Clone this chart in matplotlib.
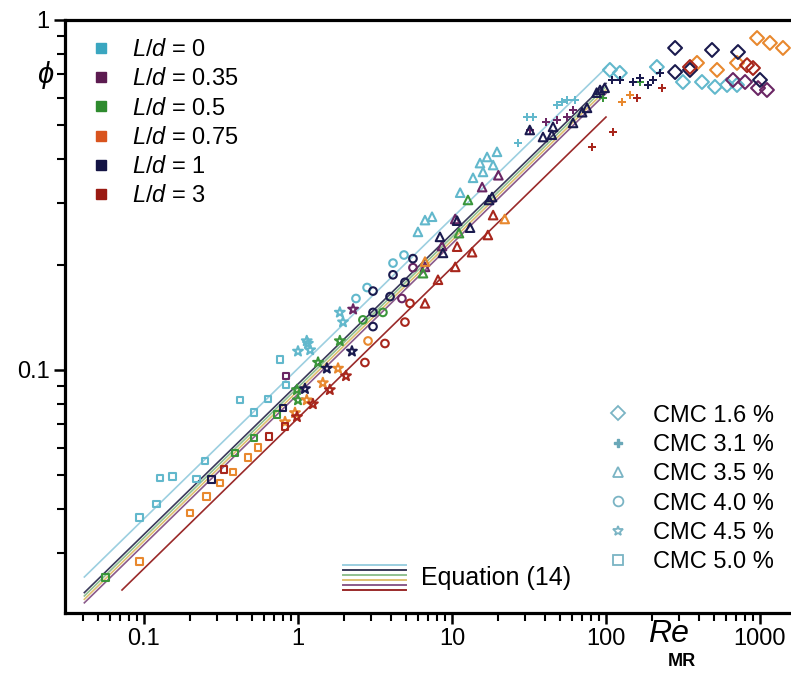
import matplotlib
matplotlib.use('Agg')
import matplotlib.pyplot as plt
from matplotlib import ticker
from matplotlib.lines import Line2D
from matplotlib.legend_handler import HandlerBase

plt.rcParams['font.family'] = ['Liberation Sans', 'DejaVu Sans']
plt.rcParams['mathtext.fontset'] = 'custom'
plt.rcParams['mathtext.it'] = 'Liberation Sans:italic'
plt.rcParams['mathtext.rm'] = 'Liberation Sans'

# --- data ---
ld_labels = ['0', '0.35', '0.5', '0.75', '1', '3']
cmc_labels = ['1.6', '3.1', '3.5', '4.0', '4.5', '5.0']

re_ld0 = [0.094, 0.121, 0.127, 0.154, 0.218, 0.249, 0.42, 0.518, 0.638, 0.764, 0.836,
          1.0, 1.14, 1.16, 1.2, 1.87, 1.96, 2.38, 2.81, 4.14, 4.88, 6.01, 6.68, 7.42,
          11.3, 13.7, 15.2, 15.9, 16.9, 18.5, 19.6, 26.8, 30.7, 33.6, 48, 51.8, 56, 62.9,
          106, 123, 214, 316, 420, 510, 611, 709]
phi_ld0 = [0.0378, 0.0414, 0.0491, 0.0495, 0.0488, 0.0549, 0.082, 0.0754, 0.0826, 0.107, 0.0906,
           0.113, 0.121, 0.119, 0.114, 0.146, 0.137, 0.160, 0.172, 0.202, 0.213, 0.248, 0.268, 0.274,
           0.321, 0.354, 0.390, 0.368, 0.406, 0.385, 0.420, 0.445, 0.528, 0.528, 0.57, 0.583, 0.59, 0.591,
           0.72, 0.706, 0.734, 0.665, 0.665, 0.644, 0.652, 0.652]
cmc_ld0 = ['5.0'] * 11 + ['4.5'] * 6 + ['4.0'] * 4 + ['3.5'] * 10 + ['3.1'] * 7 + ['1.6'] * 8

re_ld035 = [0.836, 2.28, 4.73, 5.58, 6.68, 8.61, 10.5, 15.7, 20, 32, 41, 48.1, 55.8, 61.1,
            668, 800, 971, 1110]
phi_ld035 = [0.0961, 0.149, 0.160, 0.196, 0.197, 0.226, 0.27, 0.333, 0.36, 0.485, 0.51, 0.518, 0.528, 0.553,
             0.674, 0.665, 0.639, 0.631]
cmc_ld035 = ['5.0'] + ['4.5'] + ['4.0'] * 2 + ['3.5'] * 5 + ['3.1'] * 5 + ['1.6'] * 4

re_ld05 = [0.056, 0.39, 0.518, 0.731, 0.985, 1.0, 1.35, 1.87, 2.64, 3.56, 6.48, 11.1, 12.7, 95, 166]
phi_ld05 = [0.0255, 0.0579, 0.0639, 0.0744, 0.0877, 0.082, 0.105, 0.121, 0.139, 0.146, 0.189, 0.246,
            0.306, 0.60, 0.665]
cmc_ld05 = ['5.0'] * 4 + ['4.5'] * 4 + ['4.0'] * 2 + ['3.5'] * 3 + ['3.1'] * 2

re_ld075 = [0.094, 0.199, 0.256, 0.312, 0.378, 0.474, 0.55, 0.824, 0.956, 1.14, 1.45, 1.82, 2.85,
            6.68, 22, 127, 143, 390, 526, 709, 957, 1160, 1410]
phi_ld075 = [0.0283, 0.039, 0.0434, 0.0475, 0.0511, 0.0561, 0.0599, 0.071, 0.0754, 0.082, 0.0918, 0.101,
             0.121, 0.204, 0.27, 0.583, 0.611, 0.754, 0.72, 0.754, 0.888, 0.86, 0.832]
cmc_ld075 = ['5.0'] * 7 + ['4.5'] * 5 + ['4.0'] + ['3.5'] * 2 + ['3.1'] * 2 + ['1.6'] * 6

re_ld1 = [0.276, 0.80, 1.11, 1.54, 2.24, 3.07, 3.07, 3.07, 3.96, 4.14, 4.95, 5.58, 8.36, 8.74, 10.8,
          13.1, 17.4, 18.2, 32, 39, 44.5, 45.3, 61.1, 70, 75.3, 87, 91.5, 98, 109, 123, 150, 166,
          187, 202, 224, 281, 281, 351, 488, 720, 1000]
phi_ld1 = [0.0485, 0.0778, 0.0883, 0.101, 0.113, 0.133, 0.146, 0.168, 0.162, 0.187, 0.178, 0.208, 0.240,
           0.216, 0.267, 0.255, 0.306, 0.312, 0.485, 0.463, 0.47, 0.495, 0.508, 0.545, 0.561, 0.62,
           0.631, 0.64, 0.674, 0.674, 0.665, 0.683, 0.652, 0.674, 0.706, 0.832, 0.71, 0.72, 0.821,
           0.81, 0.674]
cmc_ld1 = ['5.0'] * 2 + ['4.5'] * 3 + ['4.0'] * 7 + ['3.5'] * 16 + ['3.1'] * 7 + ['1.6'] * 6

re_ld3 = [0.331, 0.648, 0.824, 0.985, 1.25, 1.61, 2.05, 2.72, 3.67, 4.95, 5.34, 6.68, 8.11, 10.5,
          10.8, 13.5, 17.1, 18.5, 81.2, 111, 159, 231, 351, 824, 901]
phi_ld3 = [0.0518, 0.0644, 0.0688, 0.0734, 0.0799, 0.0877, 0.0961, 0.105, 0.119, 0.137, 0.155, 0.155,
           0.181, 0.197, 0.225, 0.217, 0.243, 0.277, 0.434, 0.479, 0.60, 0.639, 0.734, 0.743, 0.729]
cmc_ld3 = ['5.0'] * 3 + ['4.5'] * 4 + ['4.0'] * 4 + ['3.5'] * 7 + ['3.1'] * 4 + ['1.6'] * 3

# Equation (14) lines, end points per L/d
eq_re_start = [0.041, 0.041, 0.041, 0.041, 0.041, 0.072]
eq_re_end = [100, 100, 100, 100, 100, 100]
eq_phi_start = [0.0256, 0.0216, 0.0226, 0.0221, 0.0231, 0.0235]
eq_phi_end = [0.73, 0.617, 0.645, 0.631, 0.659, 0.528]

# --- styles ---
ld_colors = ['#3aa6c0', '#5c1b50', '#2e8b2e', '#d9541e', '#141444', '#9a1a12']
pt_colors = ['#62b8cc', '#6a2664', '#3a963a', '#e8882e', '#1a1a4e', '#a8261c']
line_colors = ['#9ccfe0', '#8a5a8a', '#90c090', '#e0c070', '#3a3a5a', '#9a2a2a']
cmc_markers = {'1.6': 'D', '3.1': 'P', '3.5': '^', '4.0': 'o', '4.5': '*', '5.0': 's'}
cmc_sizes = {'1.6': 50, '3.1': 30, '3.5': 38, '4.0': 30, '4.5': 55, '5.0': 24}

groups = [(re_ld0, phi_ld0, cmc_ld0), (re_ld035, phi_ld035, cmc_ld035), (re_ld05, phi_ld05, cmc_ld05),
          (re_ld075, phi_ld075, cmc_ld075), (re_ld1, phi_ld1, cmc_ld1), (re_ld3, phi_ld3, cmc_ld3)]

fig = plt.figure(figsize=(7.91, 6.73), dpi=100)
ax = fig.add_axes([65 / 791, 60 / 673, 726 / 791, 593 / 673])
ax.set_xscale('log')
ax.set_yscale('log')

eq_lines = []
for i in range(6):
    ln, = ax.plot([eq_re_start[i], eq_re_end[i]], [eq_phi_start[i], eq_phi_end[i]],
                  color=line_colors[i], lw=1.2, zorder=1)
    eq_lines.append(ln)

for g, (re, phi, cmc) in enumerate(groups):
    for c in cmc_labels:
        xs = [r for r, k in zip(re, cmc) if k == c]
        ys = [p for p, k in zip(phi, cmc) if k == c]
        if not xs:
            continue
        m = cmc_markers[c]
        if m == 'P':
            ax.scatter(xs, ys, s=cmc_sizes[c], marker=m, color=pt_colors[g], lw=0, zorder=3)
        else:
            ax.scatter(xs, ys, s=cmc_sizes[c], marker=m, facecolors='none',
                       edgecolors=pt_colors[g], linewidths=1.5, zorder=3)

ax.set_xlim(0.0307, 1590)
ax.set_ylim(0.0202, 1)

ax.spines['right'].set_visible(False)
for side in ['left', 'bottom', 'top']:
    ax.spines[side].set_linewidth(2.3)

fmt = ticker.FuncFormatter(lambda v, p: f'{v:g}')
ax.xaxis.set_major_formatter(fmt)
ax.yaxis.set_major_formatter(fmt)
ax.xaxis.set_minor_formatter(ticker.NullFormatter())
ax.yaxis.set_minor_formatter(ticker.NullFormatter())
ax.tick_params(which='major', direction='out', length=8, width=1.8, labelsize=17, pad=3)
ax.tick_params(which='minor', direction='out', length=6, width=1.5)
ax.tick_params(top=False, right=False, which='both')

# legends
ld_handles = [Line2D([], [], ls='none', marker='s', ms=7, mfc=c, mec=c) for c in ld_colors]
leg1 = ax.legend(ld_handles, [f'$L/d$ = {v}' for v in ld_labels], loc='upper left',
                 bbox_to_anchor=(0.014, 0.996), frameon=False, fontsize=17, handlelength=0.8,
                 handletextpad=0.9, labelspacing=0.31, borderpad=0.2)
ax.add_artist(leg1)

cmc_handles = []
for c in cmc_labels:
    m = cmc_markers[c]
    if m == 'P':
        cmc_handles.append(Line2D([], [], ls='none', marker=m, ms=6, mfc='#6aa8b8', mec='#6aa8b8'))
    else:
        cmc_handles.append(Line2D([], [], ls='none', marker=m, ms=7, mfc='none', mec='#7ab4c4', mew=1.3))
leg2 = ax.legend(cmc_handles, [f'CMC {c} %' for c in cmc_labels], loc='lower right',
                 bbox_to_anchor=(1.0, 0.039), frameon=False, fontsize=17, handlelength=0.8,
                 handletextpad=1.1, labelspacing=0.31, borderpad=0.2)
ax.add_artist(leg2)


class StackHandler(HandlerBase):
    def create_artists(self, legend, orig_handle, xdescent, ydescent, width, height, fontsize, trans):
        arts = []
        n = len(orig_handle)
        for i, h in enumerate(orig_handle):
            y = -ydescent + height * (1.15 - 1.4 * i / (n - 1))
            arts.append(Line2D([-xdescent, -xdescent + width], [y, y], color=h.get_color(),
                               lw=1.4, transform=trans))
        return arts


eq_order = [0, 4, 2, 3, 1, 5]
leg3 = ax.legend([tuple(eq_lines[i] for i in eq_order)], ['Equation (14)'], loc='lower left',
                 bbox_to_anchor=(0.352, 0.0), frameon=False, fontsize=18, handlelength=2.5,
                 handletextpad=0.6, handler_map={tuple: StackHandler()})

fig.text(45 / 791, 1 - 75 / 673, 'ϕ', fontsize=21, style='italic', ha='center', va='center')
fig.text(668 / 791, 1 - 634 / 673, 'Re', fontsize=23, style='italic', ha='center', va='center')
fig.text(682 / 791, 1 - 662 / 673, 'MR', fontsize=13, weight='bold', ha='center', va='center')

fig.savefig('out.png', dpi=100)
